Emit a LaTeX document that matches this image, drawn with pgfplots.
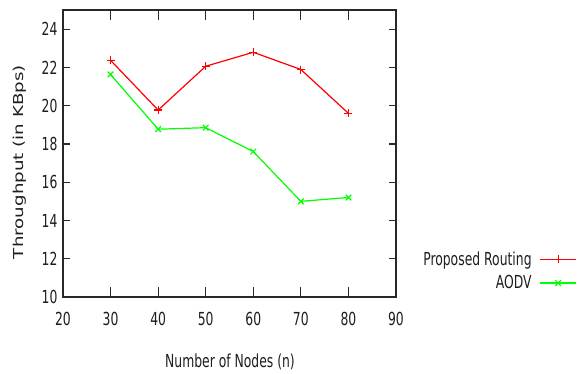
\documentclass[border=0pt]{standalone}
\usepackage{pgfplots}
\pgfplotsset{compat=1.18}
\usepackage{fontspec}
\setmainfont{DejaVu Sans}[FakeStretch=0.69]
\newfontfamily\ylfont{DejaVu Sans}
\definecolor{axgray}{RGB}{40,40,40}
\definecolor{txtgray}{RGB}{30,30,30}
\begin{document}
\begin{tikzpicture}
\useasboundingbox (-63bp,-77bp) rectangle (518bp,297bp);
\begin{axis}[
  scale only axis, width=333bp, height=287bp,
  at={(0,0)}, anchor=south west,
  xmin=20, xmax=90, ymin=10, ymax=25,
  xtick={20,30,...,90}, ytick={10,12,...,24},
  font=\fontsize{18}{21}\selectfont,
  /pgf/number format/assume math mode=true,
  axis line style={axgray, line width=1.2bp},
  tick style={axgray, line width=1.2bp},
  major tick length=7bp,
  xtick style={/pgfplots/major tick length=10bp},
  tick label style={txtgray},
  yticklabel style={xshift=-2bp},
  xticklabel style={yshift=-12bp},
  xlabel={Number of Nodes (n)},
  xlabel style={at={(axis description cs:0.5015,-0.2265)}, anchor=center, txtgray},
  ylabel={\scalebox{1}[0.75]{\ylfont\fontsize{18.3}{21}\selectfont Throughput (in KBps)}},
  ylabel style={at={(axis description cs:-0.13,0.47)}, anchor=center, txtgray},
  legend style={draw=none, fill=none, at={(axis description cs:1.5435,0.0906)}, anchor=east,
    inner sep=0pt, row sep=5bp, column sep=6bp, font=\fontsize{18}{21}\selectfont, text=txtgray},
  legend cell align=right,
  legend plot pos=right,
  legend image code/.code={\draw[line width=1.2bp, mark repeat=2,mark phase=2] plot coordinates {(0bp,0bp) (18bp,0bp) (36bp,0bp)};},
]
\addplot[color=red, line width=1.2bp, mark=+, mark size=4bp] coordinates {
  (30,22.37) (40,19.77) (50,22.06) (60,22.79) (70,21.89) (80,19.6)
};
\addlegendentry{Proposed Routing}
\addplot[color=green, line width=1.2bp, mark=x, mark size=4bp] coordinates {
  (30,21.63) (40,18.77) (50,18.85) (60,17.6) (70,15.0) (80,15.2)
};
\addlegendentry{AODV}
\end{axis}
\end{tikzpicture}
\end{document}
